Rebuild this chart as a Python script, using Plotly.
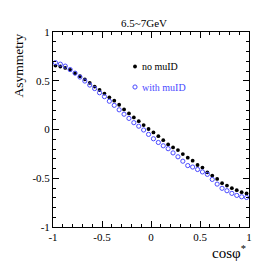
import plotly.graph_objects as go

cos_phi = [-0.975 + 0.05 * i for i in range(40)]
no_muid = [0.656, 0.646, 0.632, 0.612, 0.577, 0.546, 0.515, 0.478, 0.440, 0.405,
           0.368, 0.330, 0.296, 0.254, 0.206, 0.165, 0.124, 0.085, 0.045, 0.005,
           -0.030, -0.068, -0.109, -0.153, -0.184, -0.211, -0.252, -0.289, -0.320, -0.364,
           -0.391, -0.439, -0.473, -0.507, -0.551, -0.575, -0.602, -0.622, -0.643, -0.656]
with_muid = [0.685, 0.670, 0.650, 0.615, 0.578, 0.538, 0.497, 0.456, 0.420, 0.377,
             0.337, 0.290, 0.248, 0.202, 0.157, 0.114, 0.070, 0.034, -0.005, -0.050,
             -0.095, -0.133, -0.167, -0.197, -0.240, -0.280, -0.325, -0.370, -0.385, -0.410,
             -0.435, -0.460, -0.512, -0.560, -0.603, -0.628, -0.655, -0.676, -0.690, -0.697]
tick_vals = [-1, -0.5, 0, 0.5, 1]
tick_text = ["-1", "-0.5", "0", "0.5", "1"]
series_names = ["no muID", "with muID"]
title_text = "6.5~7GeV"

FONT = "Liberation Serif"
BLUE = "#4a4aff"

fig = go.Figure()
fig.add_trace(go.Scatter(x=cos_phi, y=no_muid, mode="markers", name=series_names[0],
                         marker=dict(symbol="circle", size=3.8, color="black"),
                         showlegend=False))
fig.add_trace(go.Scatter(x=cos_phi, y=with_muid, mode="markers", name=series_names[1],
                         marker=dict(symbol="circle-open", size=4.2, color=BLUE,
                                     line=dict(width=1, color=BLUE)),
                         showlegend=False))

axis_common = dict(range=[-1, 1], tickvals=tick_vals, ticktext=tick_text,
                   ticks="inside", ticklen=6, tickwidth=1, tickcolor="black",
                   mirror="allticks", showline=True, linecolor="black", linewidth=1,
                   showgrid=False, zeroline=False,
                   minor=dict(dtick=0.1, tick0=0, ticks="inside", ticklen=3,
                              tickcolor="black", tickwidth=1, showgrid=False),
                   tickfont=dict(family=FONT, size=11, color="black"))

# page body has an 8px default margin, so the figure is offset by 8px
fig.update_layout(
    width=258, height=258,
    margin=dict(l=45, r=17, t=24, b=39),
    plot_bgcolor="white", paper_bgcolor="white",
    xaxis=dict(**axis_common),
    yaxis=dict(**axis_common),
    font=dict(family=FONT, color="black"),
)

# Title
fig.add_annotation(text=title_text, xref="paper", yref="paper", x=0.465, y=1,
                   yshift=9, xanchor="center", yanchor="middle", showarrow=False,
                   font=dict(family=FONT, size=11, color="black"))
# Axis titles
fig.add_annotation(text="Asymmetry", xref="paper", yref="paper", x=-0.181, y=1,
                   xanchor="center", yanchor="top", textangle=-90, showarrow=False,
                   font=dict(family=FONT, size=13.5, color="black"))
fig.add_annotation(text="cosφ<sup>*</sup>", xref="paper", yref="paper", x=1, y=0,
                   xshift=-1, yshift=-36, xanchor="right", yanchor="bottom", showarrow=False,
                   font=dict(family=FONT, size=15, color="black"))

# Legend (custom, compact)
leg_x = (135 - 53) / 196
leg_y = [1 - (66.5 - 32) / 195, 1 - (87 - 32) / 195]
fig.add_shape(type="circle", xref="paper", yref="paper", xsizemode="pixel", ysizemode="pixel",
              xanchor=leg_x, yanchor=leg_y[0], x0=-1.9, x1=1.9, y0=-1.9, y1=1.9,
              fillcolor="black", line=dict(color="black", width=0))
fig.add_shape(type="circle", xref="paper", yref="paper", xsizemode="pixel", ysizemode="pixel",
              xanchor=leg_x, yanchor=leg_y[1], x0=-2.1, x1=2.1, y0=-2.1, y1=2.1,
              fillcolor="rgba(0,0,0,0)", line=dict(color=BLUE, width=1))
fig.add_annotation(text=series_names[0], xref="paper", yref="paper", x=leg_x, y=leg_y[0],
                   xshift=5, xanchor="left", yanchor="middle", showarrow=False,
                   font=dict(family=FONT, size=10, color="black"))
fig.add_annotation(text=series_names[1], xref="paper", yref="paper", x=leg_x, y=leg_y[1],
                   xshift=5, xanchor="left", yanchor="middle", showarrow=False,
                   font=dict(family=FONT, size=10, color=BLUE))

fig.write_html("out.html")
